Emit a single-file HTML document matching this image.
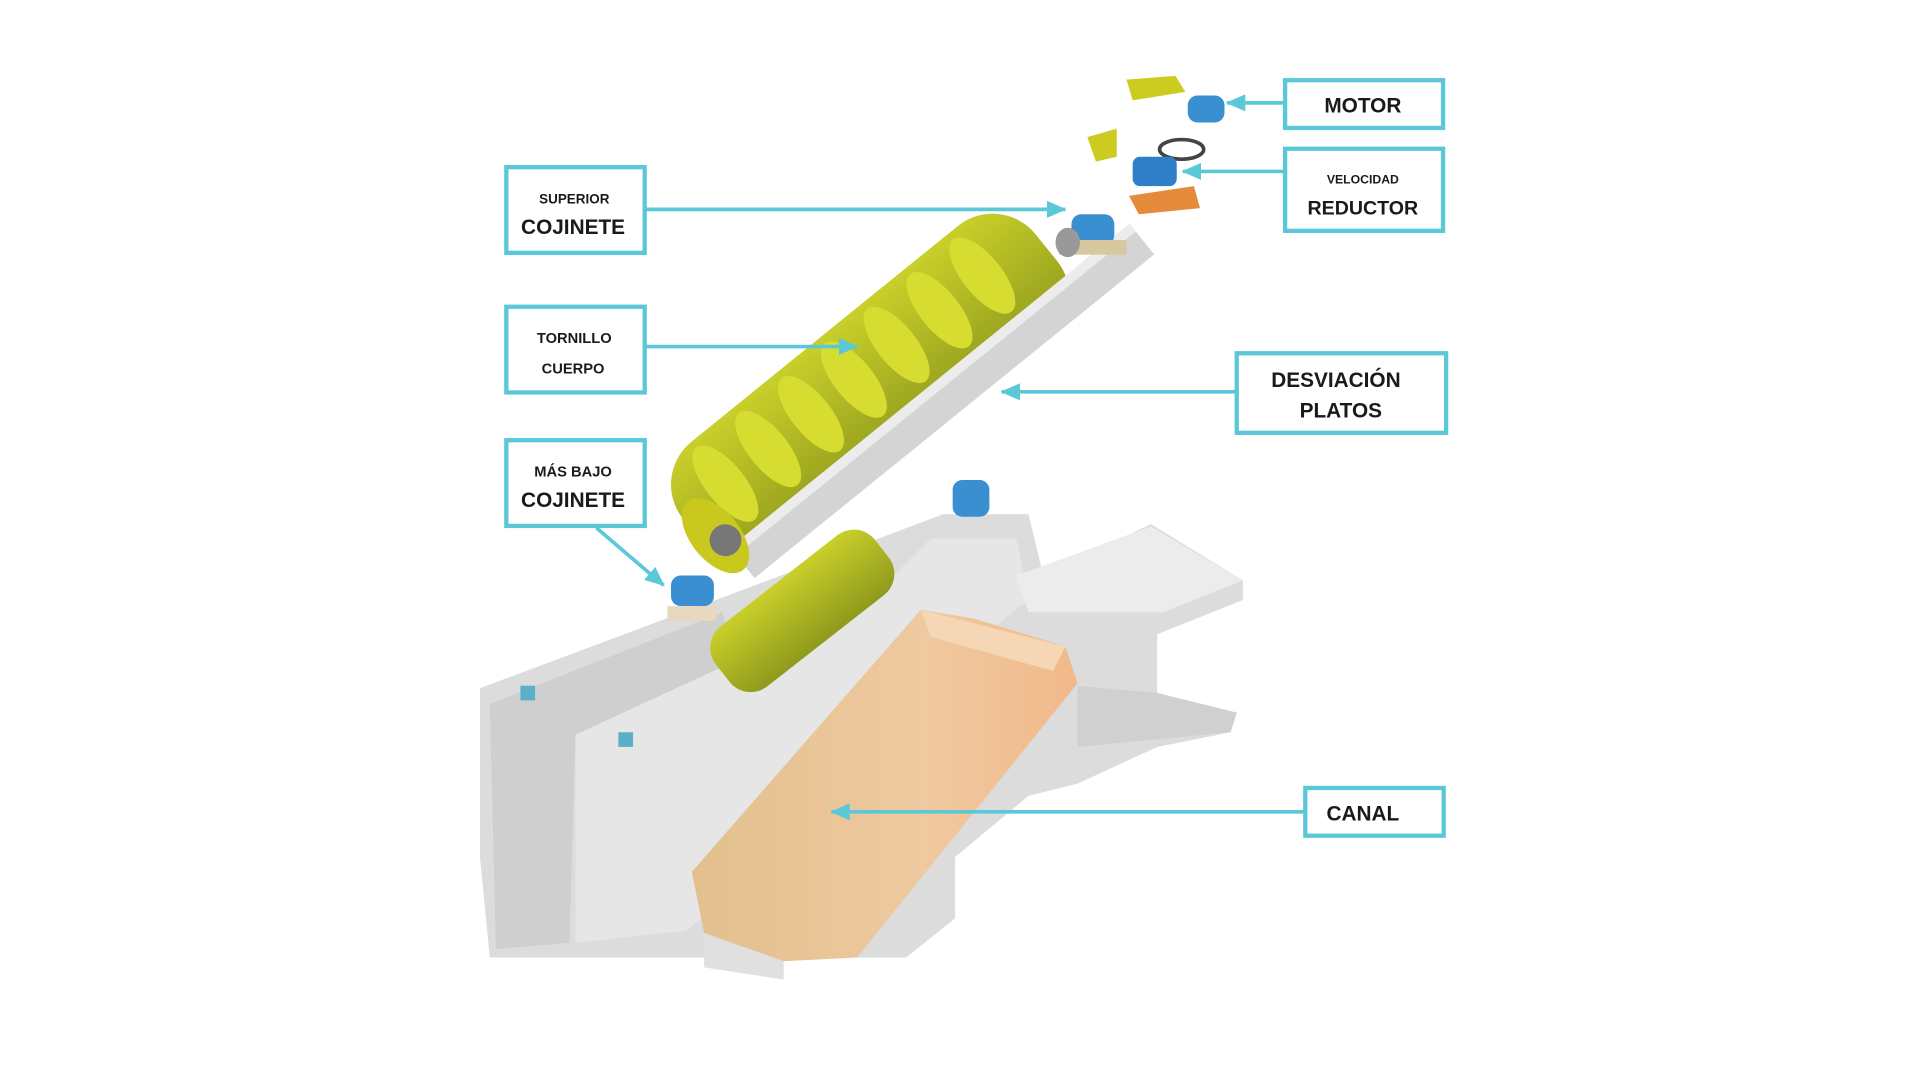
<!DOCTYPE html>
<html><head><meta charset="utf-8"><style>
html,body{margin:0;padding:0;background:#fff;width:1920px;height:1080px;overflow:hidden}
svg{display:block}
text{font-family:"Liberation Sans",sans-serif;font-weight:bold;fill:#1a1a1a;text-anchor:middle}
</style></head><body>
<svg width="1920" height="1080" viewBox="0 0 1568 882" preserveAspectRatio="none">
<defs>
<marker id="ar" markerWidth="16" markerHeight="14" refX="15" refY="7" orient="auto" markerUnits="userSpaceOnUse">
<path d="M0,0 L16,7 L0,14 z" fill="#5bc8d8"/></marker>
<linearGradient id="scr" x1="0" y1="0" x2="0" y2="1"><stop offset="0" stop-color="#c9cf2a"/><stop offset="1" stop-color="#8f9a1c"/></linearGradient>
<linearGradient id="ch" x1="0" y1="0" x2="1" y2="0"><stop offset="0" stop-color="#e2c08e"/><stop offset="0.6" stop-color="#efc9a0"/><stop offset="1" stop-color="#f2b98a"/></linearGradient>
</defs>
<!-- trough body -->
<polygon points="392,562 590,488 770,420 840,420 852,470 940,428 1015,474 1015,490 945,518 945,566 1010,582 1005,598 945,610 880,640 840,650 780,700 780,750 740,782 400,782 392,700" fill="#dcdcdc"/>
<polygon points="400,575 590,500 600,540 470,600 465,770 405,775" fill="#cfcfcf"/>
<polygon points="470,600 600,540 680,520 760,440 830,440 840,490 700,600 640,700 560,760 470,770" fill="#e6e6e6"/>
<polygon points="830,470 940,430 1015,474 950,500 840,500" fill="#ececec"/>
<polygon points="880,560 945,566 1010,582 1005,598 880,610" fill="#d0d0d0"/>
<!-- lower screw in trough -->
<g transform="translate(592,552) rotate(-38)">
<rect x="0" y="-34" width="165" height="62" rx="22" fill="url(#scr)"/>
</g>
<!-- channel -->
<polygon points="565,712 752,498 795,505 870,528 880,558 700,782 640,785 575,762" fill="url(#ch)"/>
<polygon points="752,498 870,528 860,548 760,520" fill="#f5d7b5"/>
<polygon points="575,762 640,785 640,800 575,790" fill="#e0e0e0"/>
<!-- main screw -->
<g transform="translate(575,445) rotate(-39)">
<rect x="0" y="-72" width="370" height="118" rx="45" fill="url(#scr)"/>
<g fill="#d6dc30">
<ellipse cx="45" cy="-28" rx="16" ry="38"/><ellipse cx="90" cy="-28" rx="16" ry="38"/><ellipse cx="135" cy="-28" rx="16" ry="38"/><ellipse cx="180" cy="-28" rx="16" ry="38"/><ellipse cx="225" cy="-28" rx="16" ry="38"/><ellipse cx="270" cy="-28" rx="16" ry="38"/><ellipse cx="315" cy="-28" rx="16" ry="38"/></g>
<rect x="15" y="15" width="420" height="32" fill="#d4d4d4"/>
<rect x="15" y="15" width="420" height="8" fill="#ececec"/>
<ellipse cx="12" cy="0" rx="20" ry="36" fill="#c8c81e"/>
<circle cx="16" cy="8" r="13" fill="#777"/>
</g>
<!-- lower bearing -->
<rect x="548" y="470" width="35" height="25" rx="8" fill="#3a8fd0"/>
<rect x="545" y="495" width="40" height="12" fill="#e8d8c0"/>
<!-- trough top bearing -->
<rect x="778" y="392" width="30" height="30" rx="8" fill="#3a8fd0"/>
<!-- small fixings -->
<rect x="425" y="560" width="12" height="12" fill="#5ab0c8"/><rect x="505" y="598" width="12" height="12" fill="#5ab0c8"/>
<!-- top components -->
<polygon points="920,65 960,62 968,75 925,82" fill="#cccc20"/>
<rect x="970" y="78" width="30" height="22" rx="8" fill="#3a8fd0"/>
<polygon points="888,112 912,105 912,128 895,132" fill="#cccc20"/>
<ellipse cx="965" cy="122" rx="18" ry="8" fill="none" stroke="#444" stroke-width="3"/>
<rect x="925" y="128" width="36" height="24" rx="6" fill="#2f7fc8"/>
<polygon points="922,160 975,152 980,170 930,175" fill="#e48a3a"/>
<rect x="875" y="175" width="35" height="25" rx="8" fill="#3a8fd0"/>
<rect x="865" y="196" width="55" height="12" fill="#d8c8a0"/>
<ellipse cx="872" cy="198" rx="10" ry="12" fill="#999"/>
<!-- boxes -->
<g fill="#fff" stroke="#5bc8d8" stroke-width="3.5">
<rect x="413.5" y="136.5" width="113" height="70"/>
<rect x="413.5" y="250.5" width="113" height="70"/>
<rect x="413.5" y="359.5" width="113" height="70"/>
<rect x="1049.5" y="65.5" width="129" height="39"/>
<rect x="1049.5" y="121.5" width="129" height="67"/>
<rect x="1010" y="288.5" width="171" height="65"/>
<rect x="1066" y="643.5" width="113" height="39"/>
</g>
<!-- connectors -->
<g stroke="#5bc8d8" stroke-width="3" marker-end="url(#ar)" fill="none">
<line x1="527" y1="171" x2="870" y2="171"/>
<line x1="527" y1="283" x2="700" y2="283"/>
<line x1="487" y1="431" x2="542" y2="478"/>
<line x1="1049" y1="84" x2="1002" y2="84"/>
<line x1="1049" y1="140" x2="966" y2="140"/>
<line x1="1010" y1="320" x2="818" y2="320"/>
<line x1="1066" y1="663" x2="679" y2="663"/>
</g>
<!-- labels -->
<text x="469" y="166" font-size="11">SUPERIOR</text>
<text x="468" y="191" font-size="17">COJINETE</text>
<text x="469" y="280" font-size="12">TORNILLO</text>
<text x="468" y="305" font-size="12">CUERPO</text>
<text x="468" y="389" font-size="12">MÁS BAJO</text>
<text x="468" y="414" font-size="17">COJINETE</text>
<text x="1113" y="92" font-size="17">MOTOR</text>
<text x="1113" y="150" font-size="10">VELOCIDAD</text>
<text x="1113" y="175" font-size="16">REDUCTOR</text>
<text x="1091" y="316" font-size="17">DESVIACIÓN</text>
<text x="1095" y="341" font-size="17">PLATOS</text>
<text x="1113" y="670" font-size="17">CANAL</text>
</svg>
</body></html>
